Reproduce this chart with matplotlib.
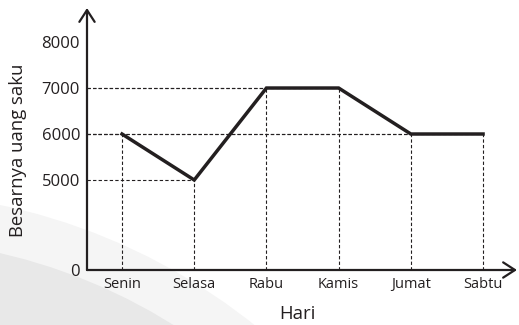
import matplotlib

matplotlib.use("Agg")
import matplotlib.pyplot as plt
import matplotlib.patches as mpatches
import numpy as np

plt.rcParams["font.family"] = ["Open Sans", "DejaVu Sans"]

# Uang saku per hari
hari = ["Senin", "Selasa", "Rabu", "Kamis", "Jumat", "Sabtu"]
uang_saku = [6000, 5000, 7000, 7000, 6000, 6000]
y_ticks = [0, 5000, 6000, 7000, 8000]

INK = "#231f20"
BREAK = 5000      # axis is compressed below this value
LOW_SPAN = 1.957  # height of the 0..5000 segment in units of 1000


def fwd(v):
    v = np.asarray(v, dtype=float)
    return np.where(v < BREAK, v / BREAK * LOW_SPAN, LOW_SPAN + (v - BREAK) / 1000.0)


def inv(u):
    u = np.asarray(u, dtype=float)
    return np.where(u < LOW_SPAN, u / LOW_SPAN * BREAK, BREAK + (u - LOW_SPAN) * 1000.0)


W, H = 519, 325
fig = plt.figure(figsize=(W / 100, H / 100), dpi=100, facecolor="white")

# soft grey backdrop in the lower left corner
for r, c in [(6.08, "#f5f5f5"), (5.61, "#e8e8e8")]:
    fig.patches.append(
        mpatches.Circle((-1.25, -4.75), r, transform=fig.dpi_scale_trans,
                        facecolor=c, edgecolor="none", zorder=-5)
    )

x0, x1, y0, y1 = 87, 517, 270, 8
ax = fig.add_axes([x0 / W, (H - y0) / H, (x1 - x0) / W, (y0 - y1) / H])
ax.set_zorder(2)
ax.patch.set_alpha(0)
ax.set_yscale("function", functions=(fwd, inv))

xs = np.arange(len(hari))
ax.set_xlim(-0.485, 5.47)
ax.set_ylim(0, 8740)

# dashed guides from each point to both axes
for x, y in zip(xs, uang_saku):
    ax.plot([ax.get_xlim()[0], x], [y, y], color=INK, lw=0.8, dashes=(3, 2), zorder=2)
    ax.plot([x, x], [0, y], color=INK, lw=0.8, dashes=(3, 2), zorder=2)

ax.plot(xs, uang_saku, color=INK, lw=2.5, solid_joinstyle="miter", zorder=3)

for s in ax.spines.values():
    s.set_visible(False)

# axes with open arrow heads
head = dict(arrowstyle="->,head_length=0.85,head_width=0.55", color=INK, lw=1.6,
            shrinkA=0, shrinkB=0)
ax.annotate("", xy=(1, 0), xytext=(0, 0), xycoords="axes fraction",
            arrowprops=head, annotation_clip=False)
ax.annotate("", xy=(0, 1), xytext=(0, 0), xycoords="axes fraction",
            arrowprops=head, annotation_clip=False)

ax.set_xticks(xs)
ax.set_xticklabels(hari, fontsize=10.5, color=INK)
ax.set_yticks(y_ticks)
ax.set_yticklabels([str(v) for v in y_ticks], fontsize=12, color=INK)
ax.yaxis.set_minor_locator(matplotlib.ticker.NullLocator())
ax.tick_params(axis="both", length=0)
ax.tick_params(axis="x", pad=5)
ax.tick_params(axis="y", pad=5)

fig.text(297 / W, 1 - 314 / H, "Hari", ha="center", va="center", fontsize=13.3, color=INK)
fig.text(18 / W, 1 - 150 / H, "Besarnya uang saku", ha="center", va="center",
         rotation=90, fontsize=13.3, color=INK)

fig.savefig("out.png", dpi=100, facecolor="white")
